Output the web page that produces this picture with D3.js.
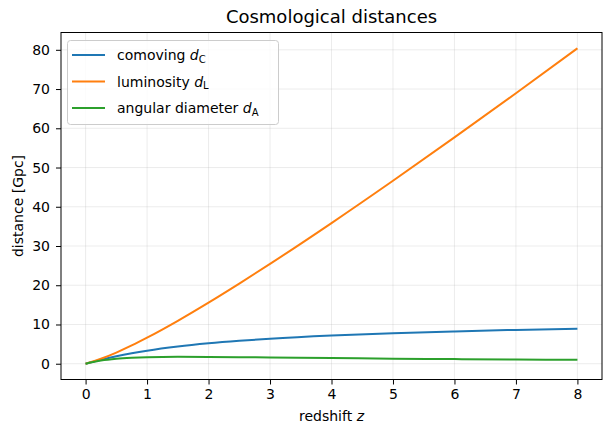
<!DOCTYPE html>
<html>
<head>
<meta charset="utf-8">
<script src="https://cdn.jsdelivr.net/npm/d3@7"></script>
<style>
  body { margin: 0; background: #fff; }
  svg { font-family: "DejaVu Sans", sans-serif; }
</style>
</head>
<body>
<div class="graph"></div>
<script>
// redshift samples and distances (Gpc)
const redshift = [0, 0.25, 0.5, 0.75, 1, 1.5, 2, 2.5, 3, 4, 5, 6, 7, 8];
const comoving = [0, 1.02, 1.90, 2.66, 3.32, 4.38, 5.19, 5.83, 6.36, 7.17, 7.77, 8.24, 8.62, 8.93];
const luminosity = [0, 1.27, 2.85, 4.66, 6.64, 10.94, 15.57, 20.42, 25.44, 35.85, 46.63, 57.68, 68.94, 80.39];
const angular = [0, 0.81, 1.27, 1.52, 1.66, 1.75, 1.73, 1.67, 1.59, 1.43, 1.30, 1.18, 1.08, 0.99];

const xTicks = [0, 1, 2, 3, 4, 5, 6, 7, 8];
const yTicks = [0, 10, 20, 30, 40, 50, 60, 70, 80];

const series = [
  { label: "comoving ", sub: "C", values: comoving, color: "#1f77b4" },
  { label: "luminosity ", sub: "L", values: luminosity, color: "#ff7f0e" },
  { label: "angular diameter ", sub: "A", values: angular, color: "#2ca02c" }
];

let width = 612;
let height = 435;
let margin = { top: 32.5, right: 10, bottom: 55.5, left: 61 };

let svg = d3.select(".graph").append("svg")
  .attr("width", width)
  .attr("height", height);

let plotW = width - margin.left - margin.right;
let plotH = height - margin.top - margin.bottom;

let x = d3.scaleLinear().domain([-0.4, 8.4]).range([margin.left, margin.left + plotW]);
let yMax = d3.max(luminosity);
let y = d3.scaleLinear().domain([-0.05 * yMax, 1.05 * yMax]).range([margin.top + plotH, margin.top]);

// grid
let grid = svg.append("g");
grid.selectAll(".gx").data(xTicks).join("line")
  .attr("x1", d => x(d)).attr("x2", d => x(d))
  .attr("y1", margin.top).attr("y2", margin.top + plotH)
  .attr("stroke", "#b0b0b0").attr("stroke-opacity", 0.3).attr("stroke-width", 0.8);
grid.selectAll(".gy").data(yTicks).join("line")
  .attr("y1", d => y(d)).attr("y2", d => y(d))
  .attr("x1", margin.left).attr("x2", margin.left + plotW)
  .attr("stroke", "#b0b0b0").attr("stroke-opacity", 0.3).attr("stroke-width", 0.8);

// lines
let line = d3.line()
  .x((d, i) => x(redshift[i]))
  .y(d => y(d))
  .curve(d3.curveMonotoneX);

svg.selectAll(".series").data(series).join("path")
  .attr("fill", "none")
  .attr("stroke", d => d.color)
  .attr("stroke-width", 2)
  .attr("d", d => line(d.values));

// axes
let xAxis = svg.append("g")
  .attr("transform", "translate(0," + (margin.top + plotH) + ")")
  .call(d3.axisBottom(x).tickValues(xTicks).tickSize(5).tickPadding(5));
let yAxis = svg.append("g")
  .attr("transform", "translate(" + margin.left + ",0)")
  .call(d3.axisLeft(y).tickValues(yTicks).tickSize(5).tickPadding(6));

[xAxis, yAxis].forEach(a => {
  a.select(".domain").remove();
  a.selectAll("line").attr("stroke", "#000").attr("stroke-width", 1);
  a.selectAll("text").attr("font-size", 14).attr("fill", "#000")
    .attr("font-family", "DejaVu Sans, sans-serif");
});

// frame
svg.append("rect")
  .attr("x", margin.left).attr("y", margin.top)
  .attr("width", plotW).attr("height", plotH)
  .attr("fill", "none").attr("stroke", "#000").attr("stroke-width", 1);

// title and labels
svg.append("text")
  .attr("x", margin.left + plotW / 2).attr("y", 23)
  .attr("text-anchor", "middle").attr("font-size", 18)
  .text("Cosmological distances");

let xl = svg.append("text")
  .attr("x", margin.left + plotW / 2).attr("y", 421)
  .attr("text-anchor", "middle").attr("font-size", 14);
xl.append("tspan").text("redshift ");
xl.append("tspan").attr("font-style", "italic").text("z");

svg.append("text")
  .attr("transform", "translate(23," + (margin.top + plotH / 2) + ") rotate(-90)")
  .attr("text-anchor", "middle").attr("font-size", 14)
  .text("distance [Gpc]");

// legend
let legend = svg.append("g");
legend.append("rect")
  .attr("x", 67.5).attr("y", 40.5)
  .attr("width", 211).attr("height", 84)
  .attr("rx", 3)
  .attr("fill", "#fff").attr("fill-opacity", 0.8)
  .attr("stroke", "#cccccc").attr("stroke-width", 1);

let items = legend.selectAll(".item").data(series).join("g")
  .attr("transform", (d, i) => "translate(0," + (55 + i * 26.5) + ")");
items.append("line")
  .attr("x1", 72).attr("x2", 105)
  .attr("stroke", d => d.color).attr("stroke-width", 2);
let lt = items.append("text")
  .attr("x", 117).attr("y", 5).attr("font-size", 14);
lt.append("tspan").text(d => d.label);
lt.append("tspan").attr("font-style", "italic").text("d");
lt.append("tspan").attr("font-size", 10).attr("dy", 2.5).text(d => d.sub);
</script>
</body>
</html>
